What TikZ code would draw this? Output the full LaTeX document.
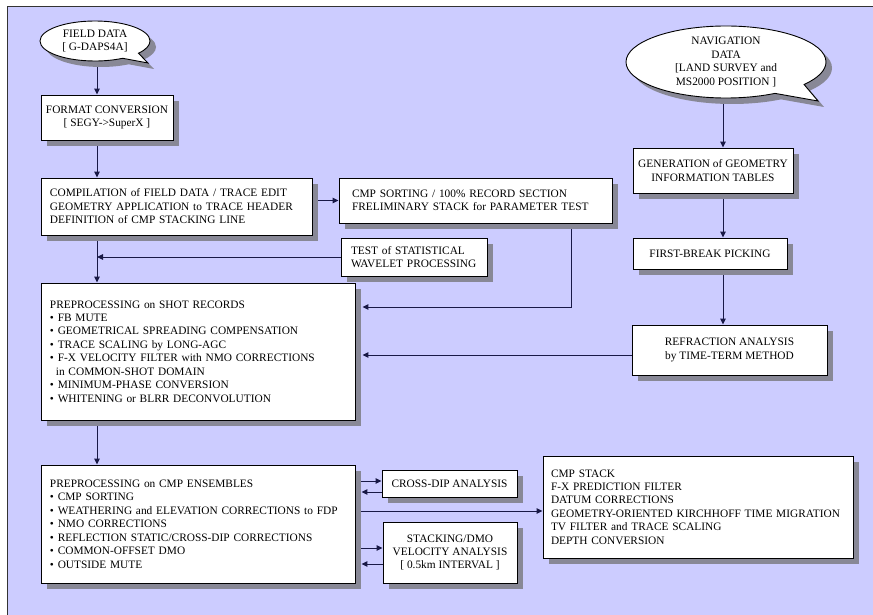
\documentclass[tikz,border=0pt]{standalone}
\usepackage{fontspec}
\setmainfont{Liberation Serif}
\usetikzlibrary{shapes.callouts,shadows,arrows.meta,calc}
\definecolor{panelc}{RGB}{204,204,255}
\definecolor{shadec}{RGB}{136,136,150}
\definecolor{linkc}{RGB}{25,25,70}
\pgfdeclarelayer{bglayer}
\pgfdeclarelayer{links}
\pgfsetlayers{bglayer,links,main}
\begin{document}
\begin{tikzpicture}[x=1bp,y=-1bp,
  every node/.style={font=\fontsize{11.4}{13.5}\selectfont},
  shadowed/.style={drop shadow={shadow xshift=6bp, shadow yshift=-6bp, fill=shadec, opacity=1}},
  box/.style={draw=black, fill=white, line width=0.9bp, inner sep=0pt, shadowed},
  lbox/.style={box, align=left},
  cbox/.style={box, align=center},
  bubble/.style={ellipse callout, draw=black, fill=white, line width=0.9bp, inner sep=0pt, align=center, shadowed, callout pointer arc=22},
  link/.style={draw=linkc, line width=1bp},
  arr/.style={link, -{Triangle[length=6bp,width=5.5bp]}}
]
\useasboundingbox (0,0) rectangle (873,615);
\begin{pgfonlayer}{bglayer}
  \fill[white] (0,0) rectangle (873,615);
  \fill[panelc] (7,7) rectangle (873,615);
  \draw[black!80, line width=1bp] (7,615) -- (7,7) -- (873,7);
\end{pgfonlayer}

% left column
\node[bubble, minimum width=110bp, minimum height=40bp, callout absolute pointer={(148,63)}] (field) at (95,41) {FIELD DATA\\{}[ G-DAPS4A]};
\node[cbox, minimum width=132bp, minimum height=45bp] (format) at (107,117.5) {FORMAT CONVERSION\\{}[ SEGY->SuperX ]};
\node[lbox, minimum width=271bp, minimum height=57bp, text width=253bp] (compile) at (176.5,206.5)
  {COMPILATION of FIELD DATA / TRACE EDIT\\GEOMETRY APPLICATION to TRACE HEADER\\DEFINITION of CMP STACKING LINE};
\node[lbox, minimum width=273bp, minimum height=45bp, text width=247bp] (cmpsort) at (475.5,200.5)
  {CMP SORTING / 100\% RECORD SECTION\\FRELIMINARY STACK for PARAMETER TEST};
\node[lbox, minimum width=146bp, minimum height=38bp, text width=126bp] (test) at (414,257)
  {TEST of STATISTICAL\\WAVELET PROCESSING};
\node[lbox, minimum width=314bp, minimum height=137bp, text width=296bp] (preproc) at (198,351.5)
  {PREPROCESSING on SHOT RECORDS\\
   • FB MUTE\\
   • GEOMETRICAL SPREADING COMPENSATION\\
   • TRACE SCALING by LONG-AGC\\
   • F-X VELOCITY FILTER with NMO CORRECTIONS\\
   \phantom{•}\,in COMMON-SHOT DOMAIN\\
   • MINIMUM-PHASE CONVERSION\\
   • WHITENING or BLRR DECONVOLUTION};
\node[lbox, minimum width=314bp, minimum height=118bp, text width=296bp] (ens) at (198,524)
  {PREPROCESSING on CMP ENSEMBLES\\
   • CMP SORTING\\
   • WEATHERING and ELEVATION CORRECTIONS to FDP\\
   • NMO CORRECTIONS\\
   • REFLECTION STATIC/CROSS-DIP CORRECTIONS\\
   • COMMON-OFFSET DMO\\
   • OUTSIDE MUTE};
\node[cbox, minimum width=135bp, minimum height=27bp] (crossdip) at (449.5,483.5) {CROSS-DIP ANALYSIS};
\node[cbox, minimum width=134bp, minimum height=61bp] (stacking) at (450,552.5)
  {STACKING/DMO\\VELOCITY ANALYSIS\\{}[ 0.5km INTERVAL ]};
\node[lbox, minimum width=310bp, minimum height=102bp, text width=294bp] (cmpstack) at (698,507)
  {CMP STACK\\F-X PREDICTION FILTER\\DATUM CORRECTIONS\\GEOMETRY-ORIENTED KIRCHHOFF TIME MIGRATION\\TV FILTER and TRACE SCALING\\DEPTH CONVERSION};

% right column
\node[bubble, minimum width=200bp, minimum height=72bp, callout absolute pointer={(818,101)}] (nav) at (726,62)
  {NAVIGATION\\DATA\\{}[LAND SURVEY and\\MS2000 POSITION ]};
\node[cbox, minimum width=160bp, minimum height=45bp] (gen) at (713,170.5) {GENERATION of GEOMETRY\\INFORMATION TABLES};
\node[cbox, minimum width=154bp, minimum height=31bp] (fb) at (710,253.5) {FIRST-BREAK PICKING};
\node[cbox, minimum width=195bp, minimum height=50bp] (refr) at (729.5,350) {REFRACTION ANALYSIS\\by TIME-TERM METHOD};

% helper coordinates
\coordinate (colL) at (97,0);
\coordinate (colR) at (723,0);
\coordinate (ppE) at ($(preproc.east)+(7,0)$);
\coordinate (ensE) at ($(ens.east)+(6,0)$);
\coordinate (sortD) at ([xshift=-41bp]cmpsort.south east);
\coordinate (pp1) at ([yshift=44.5bp]ppE);
\coordinate (rf1) at ([yshift=-5bp]refr.west);
\coordinate (cd1) at ([yshift=2.5bp]crossdip.west);
\coordinate (cd2) at ([yshift=-8.5bp]crossdip.west);
\coordinate (cs1) at ([yshift=-4bp]cmpstack.west);
\coordinate (st1) at ([yshift=4.5bp]stacking.west);
\coordinate (st2) at ([yshift=-11.5bp]stacking.west);

\begin{pgfonlayer}{links}
  \draw[arr] (field.south -| colL) -- (format.north -| colL);
  \draw[arr] (format.south -| colL) -- (compile.north -| colL);
  \draw[arr] (compile.east |- cmpsort.west) -- (cmpsort.west);
  \draw[arr] (compile.south -| colL) -- (preproc.north -| colL);
  \draw[arr] (test.west) -- (test.west -| colL);
  \draw[arr] (sortD) |- (pp1);
  \draw[arr] (rf1) -- (rf1 -| ppE);
  \draw[arr] (preproc.south -| colL) -- (ens.north -| colL);
  \draw[arr] (cd1 -| ens.east) -- (cd1);
  \draw[arr] (cd2) -- (cd2 -| ensE);
  \draw[arr] (cs1 -| ens.east) -- (cs1);
  \draw[arr] (st1 -| ens.east) -- (st1);
  \draw[arr] (st2) -- (st2 -| ensE);
  \draw[arr] (nav.south -| colR) -- (gen.north -| colR);
  \draw[arr] (gen.south -| colR) -- (fb.north -| colR);
  \draw[arr] (fb.south -| colR) -- (refr.north -| colR);
\end{pgfonlayer}
\end{tikzpicture}
\end{document}
